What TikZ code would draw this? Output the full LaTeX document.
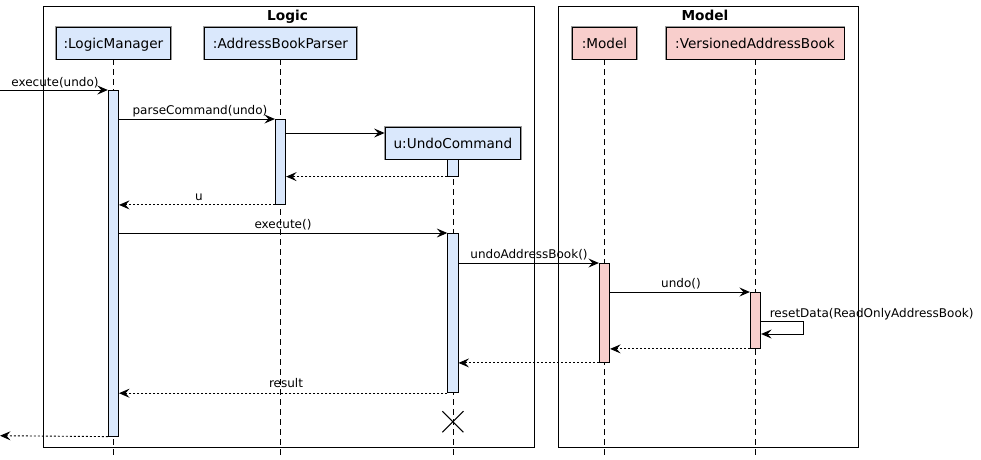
\documentclass[tikz,border=0pt]{standalone}
\usepackage{fontspec}
\setmainfont{DejaVu Sans}
\usetikzlibrary{arrows.meta,shapes.misc}
\definecolor{lblue}{HTML}{DAE8FC}
\definecolor{lred}{HTML}{F8CECC}
\tikzset{
  frame/.style={draw=black, line width=0.9pt, anchor=north west, inner sep=0pt},
  ftitle/.style={anchor=base, inner sep=0pt, font=\fontsize{13.7}{16}\selectfont\bfseries},
  part/.style={draw=black, line width=0.9pt, preaction={draw=black!40, line width=2.6pt},
    minimum height=32pt, inner sep=0pt, text height=10pt, text depth=0pt,
    font=\fontsize{13.6}{16}\selectfont},
  actbar/.style={draw=black, line width=0.9pt, minimum width=10.3pt, inner sep=0pt, anchor=north},
  lifeline/.style={line width=0.8pt, dash pattern=on 6pt off 4pt},
  msg/.style={line width=0.9pt, -{Stealth[length=10.5pt,width=9pt,inset=4pt]}},
  ret/.style={msg, dash pattern=on 2pt off 2pt},
  lbl/.style={anchor=base, inner sep=0pt, font=\fontsize{12}{14}\selectfont},
}
\begin{document}
\begin{tikzpicture}[x=1pt,y=-1pt]
\useasboundingbox (0,0) rectangle (981,459);
% frames
\node[frame, minimum width=491.6pt, minimum height=441pt] (logicf) at (42.7,6) {};
\node[ftitle] (logict) at (287.5,20) {Logic};
\node[frame, minimum width=300.3pt, minimum height=441pt] (modelf) at (557.7,6) {};
\node[ftitle] (modelt) at (705,20) {Model};
% participants
\node[part, fill=lblue, minimum width=114.7pt] (lm) at (113.4,43) {:LogicManager};
\node[part, fill=lblue, minimum width=151.6pt] (abp) at (280.5,43) {:AddressBookParser};
\node[part, fill=lblue, minimum width=135.7pt] (uc) at (452.9,143) {u:UndoCommand};
\node[part, fill=lred, minimum width=64.4pt] (mo) at (604.5,43) {:Model};
\node[part, fill=lred, minimum width=178pt] (vab) at (755,43) {:VersionedAddressBook};
% lifelines
\coordinate (lmend) at (113.4,459);
\coordinate (abpend) at (280.5,459);
\coordinate (ucend) at (452.9,459);
\coordinate (moend) at (604.5,459);
\coordinate (vabend) at (755,459);
\draw[lifeline] (lm.south) -- (lmend);
\draw[lifeline] (abp.south) -- (abpend);
\draw[lifeline] (uc.south) -- (ucend);
\draw[lifeline] (mo.south) -- (moend);
\draw[lifeline] (vab.south) -- (vabend);
% activation bars
\node[actbar, fill=lblue, minimum height=345.7pt] (lmb) at (113.4,90) {};
\node[actbar, fill=lblue, minimum height=85pt] (abpb) at (280.5,119) {};
\node[actbar, fill=lblue, minimum height=16.7pt] (ucb1) at (452.9,159) {};
\node[actbar, fill=lblue, minimum height=159.3pt] (ucb2) at (452.9,233) {};
\node[actbar, fill=lred, minimum height=99pt] (mb) at (604.5,263) {};
\node[actbar, fill=lred, minimum height=56pt] (vb) at (755.5,292) {};
% destroy
\node[draw, cross out, minimum size=20pt, inner sep=0pt, line width=1.1pt] (destroy) at (452.9,421.7) {};
% messages
\coordinate (in) at (0,90);
\draw[msg] (in) -- (lmb.north west);
\node[lbl] (l1) at (55,86) {execute(undo)};
\draw[msg] (lmb.east |- abpb.north) -- (abpb.north west);
\node[lbl] (l2) at (200,114.5) {parseCommand(undo)};
\draw[msg] (abpb.east |- 0,133) -- (uc.west |- 0,133);
\draw[ret] (ucb1.south west) -- (abpb.east |- ucb1.south);
\draw[ret] (abpb.south west) -- (lmb.east |- abpb.south);
\node[lbl] (l3) at (199,200) {u};
\draw[msg] (lmb.east |- ucb2.north) -- (ucb2.north west);
\node[lbl] (l4) at (283,228.5) {execute()};
\draw[msg] (ucb2.east |- mb.north) -- (mb.north west);
\node[lbl] (l5) at (529,258.5) {undoAddressBook()};
\draw[msg] (mb.east |- vb.north) -- (vb.north west);
\node[lbl] (l6) at (681,287.5) {undo()};
\draw[msg] (vb.east |- 0,321.7) -- ++(42.5,0) -- ++(0,12.3) -- (vb.east |- 0,334);
\node[lbl, anchor=base west] (l7) at (769.6,317) {resetData(ReadOnlyAddressBook)};
\draw[ret] (vb.south west) -- (mb.east |- vb.south);
\draw[ret] (mb.south west) -- (ucb2.east |- mb.south);
\draw[ret] (ucb2.south west) -- (lmb.east |- ucb2.south);
\node[lbl] (l8) at (286,387.5) {result};
\coordinate (out) at (0,435.7);
\draw[ret] (lmb.south west) -- (out);
\end{tikzpicture}
\end{document}
